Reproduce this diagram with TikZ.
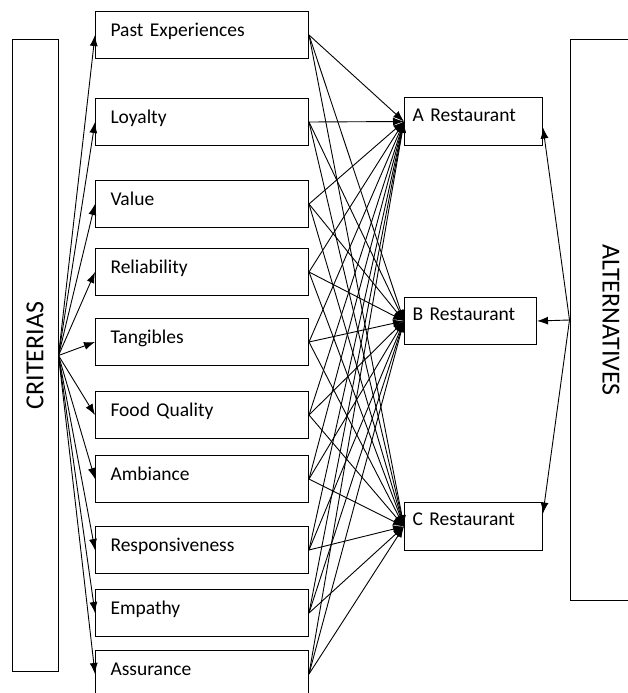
\documentclass[tikz,border=0pt]{standalone}
\usepackage{fontspec}
\setmainfont{Carlito}
\usetikzlibrary{arrows.meta}

\begin{document}
\begin{tikzpicture}[x=1pt, y=-1pt, line width=0.9pt,
    every node/.style={draw, line width=1pt, inner ysep=0pt, font=\fontsize{19.5}{23}\selectfont},
    crit/.style={anchor=north west, text width=183pt, inner xsep=15pt, align=left, text height=25pt, text depth=22pt},
    rest/.style={anchor=north west, text width=122pt, inner xsep=8pt, align=left, text height=24pt, text depth=24pt},
    big/.style={font=\fontsize{26}{30}\selectfont},
    tip/.style={-{Latex[length=11pt, width=8pt]}}]
    \clip (0,0) rectangle (628,693);

    \node[big, rotate=90, minimum width=631pt, minimum height=46pt] (K) at (35,355.5) {CRITERIAS};
    \node[big, rotate=-90, minimum width=560pt, minimum height=82pt] (L) at (611,320) {ALTERNATIVES};

    \node[crit] (c1) at (95,11) {Past Experiences};
    \node[crit] (c2) at (95,98) {Loyalty};
    \node[crit] (c3) at (95,180) {Value};
    \node[crit] (c4) at (95,248) {Reliability};
    \node[crit] (c5) at (95,318) {Tangibles};
    \node[crit] (c6) at (95,391) {Food Quality};
    \node[crit] (c7) at (95,455) {Ambiance};
    \node[crit] (c8) at (95,526) {Responsiveness};
    \node[crit] (c9) at (95,589) {Empathy};
    \node[crit] (c10) at (95,650) {Assurance};

    \node[rest] (A) at (404,97) {A Restaurant};
    \node[rest, text width=116pt, text height=23pt, text depth=24pt] (B) at (404,297) {B Restaurant};
    \node[rest, text height=23pt, text depth=25pt] (C) at (404,502) {C Restaurant};

    \foreach \i in {1,...,10} {
      \draw[tip] (K.south) -- (c\i.west);
      \foreach \r in {A,B,C}
        \draw[tip] (c\i.east) -- (\r.west);
    }

    \draw[tip] (L.south) -- ([yshift=-6pt]A.east);
    \draw[tip] (L.south) -- (B.east);
    \draw[tip] (L.south) -- ([yshift=13pt]C.east);
\end{tikzpicture}
\end{document}
